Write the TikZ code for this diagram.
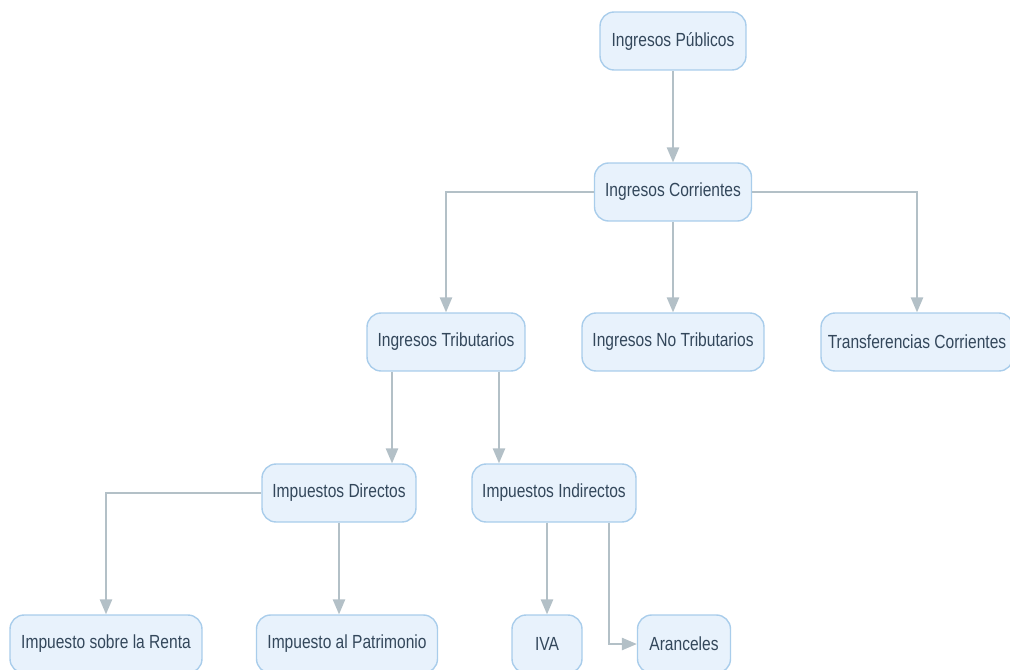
\documentclass[tikz,border=0pt]{standalone}
\usepackage{fontspec}
\setmainfont{Liberation Sans}[FakeStretch=0.82]
\usepackage{xcolor}
\usetikzlibrary{arrows.meta,positioning}

\definecolor{boxfill}{HTML}{E8F2FC}
\definecolor{boxline}{HTML}{A9CDEB}
\definecolor{edgecol}{HTML}{B3C0C7}
\definecolor{textcol}{HTML}{33475B}

\begin{document}
\begin{tikzpicture}[x=0.02cm,y=-0.02cm,
        box/.style={draw=boxline,fill=boxfill,line width=0.8pt,rounded corners=8pt,
          minimum height=1.16cm,inner sep=0pt,text=textcol,font=\fontsize{10.8}{13}\selectfont},
        edge/.style={draw=edgecol,line width=0.9pt,-{Triangle[length=8.5pt,width=7pt]}}]
        \useasboundingbox (0,0) rectangle (1010,669);
        % nodes
        \node[box,minimum width=2.92cm] (pub) at (673,41) {Ingresos Públicos};
        \node[box,minimum width=3.14cm] (cor) at (673,192) {Ingresos Corrientes};
        \node[box,minimum width=3.16cm] (tri) at (446,342) {Ingresos Tributarios};
        \node[box,minimum width=3.64cm] (ntr) at (673,342) {Ingresos No Tributarios};
        \node[box,minimum width=3.84cm] (tra) at (917,342) {Transferencias Corrientes};
        \node[box,minimum width=3.08cm] (dir) at (339,493) {Impuestos Directos};
        \node[box,minimum width=3.28cm] (ind) at (554,493) {Impuestos Indirectos};
        \node[box,minimum width=3.84cm] (ren) at (106,644) {Impuesto sobre la Renta};
        \node[box,minimum width=3.62cm] (pat) at (347,644) {Impuesto al Patrimonio};
        \node[box,minimum width=1.40cm] (iva) at (547,644) {IVA};
        \node[box,minimum width=1.86cm] (ara) at (684,644) {Aranceles};
        % connectors
        \draw[edge] (pub.south) -- (cor.north);
        \draw[edge] (cor.west) -| (tri.north);
        \draw[edge] (cor.south -| ntr.north) -- (ntr.north);
        \draw[edge] (cor.east) -| (tra.north);
        \draw[edge] ([xshift=-1.08cm]tri.south) -- ([xshift=-1.08cm]tri.south |- dir.north);
        \draw[edge] ([xshift=1.06cm]tri.south) -- ([xshift=1.06cm]tri.south |- ind.north);
        \draw[edge] (dir.west) -| (ren.north);
        \draw[edge] (dir.south) -- (dir.south |- pat.north);
        \draw[edge] (ind.south -| iva.north) -- (iva.north);
        \draw[edge] ([xshift=1.1cm]ind.south) |- (ara.west);
\end{tikzpicture}
\end{document}
